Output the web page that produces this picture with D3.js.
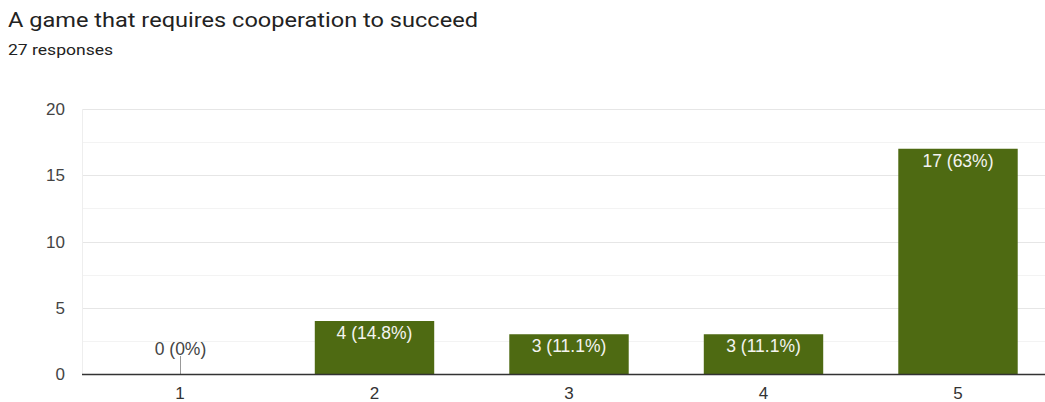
<!DOCTYPE html>
<html><head><meta charset="utf-8">
<script src="https://cdn.jsdelivr.net/npm/d3@7"></script>
<style>body{margin:0;background:#fff;font-family:"Liberation Sans",Arial,sans-serif;}</style>
</head><body><svg id="c" width="1045" height="402"></svg>
<script>
const categories = ["1","2","3","4","5"];
const counts = [0,4,3,3,17];
const labels = ["0 (0%)","4 (14.8%)","3 (11.1%)","3 (11.1%)","17 (63%)"];
const yTicks = [0,5,10,15,20];
const minorTicks = [2.5,7.5,12.5,17.5];

const svg = d3.select("#c");
const x = d3.scaleBand().domain(categories).range([82.75,1055.25]).paddingInner(0.386).paddingOuter(0.193);
const y = d3.scaleLinear().domain([0,20]).range([374,109]);

svg.append("text").attr("x",8).attr("y",27).attr("font-family","Roboto").attr("font-size",21).attr("fill","#222")
  .attr("textLength",470).attr("lengthAdjust","spacingAndGlyphs").text("A game that requires cooperation to succeed");
svg.append("text").attr("x",8).attr("y",55).attr("font-family","Roboto").attr("font-size",15).attr("fill","#222")
  .attr("textLength",105).attr("lengthAdjust","spacingAndGlyphs").text("27 responses");

svg.append("g").selectAll("line").data(minorTicks).join("line")
  .attr("x1",82).attr("x2",1045).attr("y1",d=>Math.round(y(d))+0.5).attr("y2",d=>Math.round(y(d))+0.5)
  .attr("stroke","#f3f3f3");
svg.append("g").selectAll("line").data(yTicks.filter(d=>d>0)).join("line")
  .attr("x1",82).attr("x2",1045).attr("y1",d=>Math.round(y(d))+0.5).attr("y2",d=>Math.round(y(d))+0.5)
  .attr("stroke","#e6e6e6");
svg.append("line").attr("x1",82.5).attr("x2",82.5).attr("y1",y(20)).attr("y2",y(0)).attr("stroke","#eeeeee");

svg.append("g").selectAll("text").data(yTicks).join("text")
  .attr("x",65).attr("y",d=>y(d)+6).attr("text-anchor","end").attr("font-size",17).attr("fill","#444").text(d=>d);

const g = svg.append("g");
categories.forEach((c,i)=>{
  const v = counts[i];
  if (v>0){
    g.append("rect").attr("x",x(c)).attr("width",x.bandwidth()).attr("y",y(v)).attr("height",y(0)-y(v)).attr("fill","#4e6a12");
    g.append("text").attr("x",x(c)+x.bandwidth()/2).attr("y",y(v)+18).attr("text-anchor","middle").attr("font-size",17.5).attr("fill","#f4f4f0").text(labels[i]);
  } else {
    const cx = Math.round(x(c)+x.bandwidth()/2)+0.5;
    g.append("line").attr("x1",cx).attr("x2",cx).attr("y1",y(0)).attr("y2",y(0)-18).attr("stroke","#999");
    g.append("text").attr("x",cx).attr("y",y(0)-19).attr("text-anchor","middle").attr("font-size",17.5).attr("fill","#444").text(labels[i]);
  }
});

svg.append("line").attr("x1",82).attr("x2",1045).attr("y1",374.5).attr("y2",374.5).attr("stroke","#333").attr("stroke-width",1.5);

svg.append("g").selectAll("text").data(categories).join("text")
  .attr("x",d=>x(d)+x.bandwidth()/2).attr("y",399).attr("text-anchor","middle").attr("font-size",17).attr("fill","#333").text(d=>d);
</script></body></html>
